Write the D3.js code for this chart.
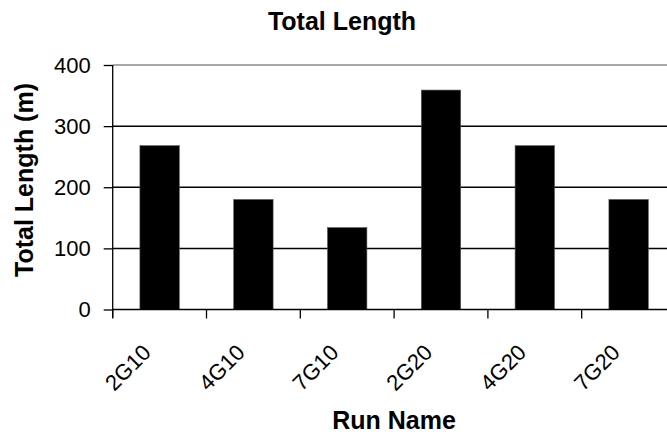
<!DOCTYPE html>
<html lang="en">
    <head>
        <meta charset="utf-8" />
        <title>Total Length</title>
        <style>
            body { margin: 0; background: #fff; }
            text { font-family: "Liberation Sans", Arial, sans-serif; fill: #000; }
        </style>
    </head>
    <body>
        <script src="https://d3js.org/d3.v7.min.js"></script>
        <script type="text/javascript">

            const runNames = ["2G10", "4G10", "7G10", "2G20", "4G20", "7G20"];
            const totalLength = [268, 180, 134, 359, 268, 180];
            const yTicks = [0, 100, 200, 300, 400];

            const width = 667;
            const height = 434;
            const plotLeft = 112.7;
            const plotRight = 675.5;   // plot runs past the picture edge
            const plotTop = 65;
            const plotBottom = 309.5;

            const svg = d3.select("body")
                    .append("svg")
                    .attr("width", width)
                    .attr("height", height);

            const dataset = runNames.map((d, i) => ({name: d, value: totalLength[i]}));

            const x = d3.scaleBand()
                    .domain(runNames)
                    .range([plotLeft, plotRight])
                    .paddingInner(0.58)
                    .paddingOuter(0.29);

            const y = d3.scaleLinear()
                    .domain([0, 400])
                    .range([plotBottom, plotTop]);

            // category boundary (where excel puts the tick)
            const edge = d => x(d) - (x.step() - x.bandwidth()) / 2;

            //Gridlines
            svg.append("g")
                .selectAll("line")
                .data(yTicks.filter(t => t > 0))
                .enter()
                .append("line")
                .attr("x1", plotLeft)
                .attr("x2", width)
                .attr("y1", d => y(d))
                .attr("y2", d => y(d))
                .attr("stroke", d => d == 400 ? "#8c8c8c" : "#000")
                .attr("stroke-width", 1.5);

            //Bars
            svg.append("g")
                .selectAll("rect")
                .data(dataset)
                .enter()
                .append("rect")
                .attr("x", d => x(d.name))
                .attr("y", d => y(d.value))
                .attr("width", x.bandwidth())
                .attr("height", d => y(0) - y(d.value))
                .attr("fill", "#000")
                .attr("stroke", "#555")
                .attr("stroke-width", 0.6);

            //Y axis
            const yAxis = svg.append("g")
                .attr("transform", "translate(" + plotLeft + ",0)")
                .call(d3.axisLeft(y).tickValues(yTicks).tickSize(9).tickPadding(13).tickSizeOuter(0));
            yAxis.select(".domain").attr("stroke", "#000").attr("stroke-width", 1.3)
                .attr("d", "M0," + plotTop + "V" + (plotBottom + 8));
            yAxis.selectAll(".tick line").attr("stroke", "#000").attr("stroke-width", 1.3);
            yAxis.selectAll(".tick text")
                .style("font-size", "22px")
                .style("font-family", "'Liberation Sans', Arial, sans-serif");

            //X axis
            svg.append("line")
                .attr("x1", plotLeft)
                .attr("x2", width)
                .attr("y1", plotBottom)
                .attr("y2", plotBottom)
                .attr("stroke", "#000")
                .attr("stroke-width", 1.3);

            svg.append("g")
                .selectAll("line")
                .data(runNames)
                .enter()
                .append("line")
                .attr("x1", d => edge(d))
                .attr("x2", d => edge(d))
                .attr("y1", plotBottom)
                .attr("y2", plotBottom + 9)
                .attr("stroke", "#000")
                .attr("stroke-width", 1.3);

            svg.append("g")
                .selectAll("text")
                .data(runNames)
                .enter()
                .append("text")
                .attr("transform", d => "translate(" + (edge(d) + 20.5) + ",373) rotate(-45)")
                .attr("text-anchor", "middle")
                .style("font-size", "22px")
                .text(d => d);

            //Titles
            svg.append("text")
                .attr("x", 342)
                .attr("y", 30)
                .attr("text-anchor", "middle")
                .style("font-size", "25px")
                .style("font-weight", "bold")
                .text("Total Length");

            svg.append("text")
                .attr("x", 394)
                .attr("y", 429)
                .attr("text-anchor", "middle")
                .style("font-size", "25px")
                .style("font-weight", "bold")
                .text("Run Name");

            svg.append("text")
                .attr("transform", "translate(33,180) rotate(-90)")
                .attr("text-anchor", "middle")
                .style("font-size", "25px")
                .style("font-weight", "bold")
                .text("Total Length (m)");
        </script>
    </body>
</html>
